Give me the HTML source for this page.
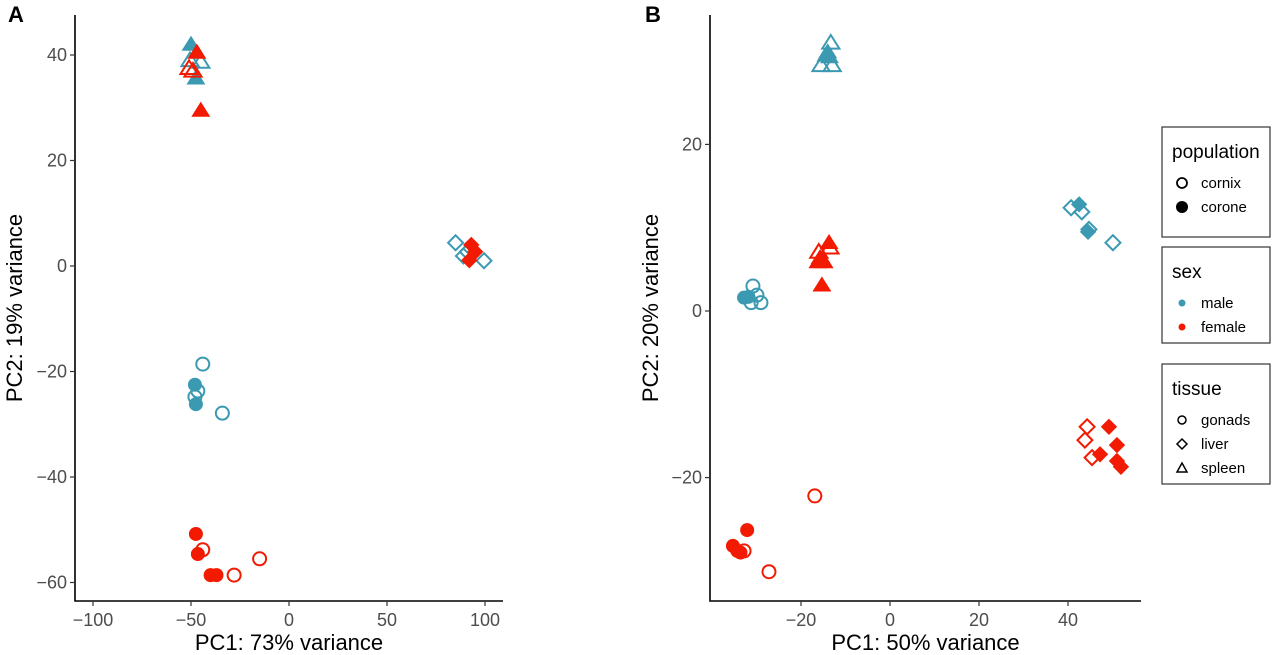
<!DOCTYPE html>
<html><head><meta charset="utf-8"><style>
body{margin:0;background:#fff;}
svg{display:block;font-family:"Liberation Sans",sans-serif;}
</style></head><body>
<svg id="fig" width="1280" height="655" viewBox="0 0 1280 655"></svg>
<script>
// Panel A data
const aX=[-50,-50.5,-45,-47.5,-47,-51,-49,-45, -44,-48,-46.5,-48,-47.5,-34, -47.5,-46.5,-44,-40,-37,-28,-15, 85,89,99.5,91,93,95,92];
const aY=[42,39,38.7,35.6,40.5,37.5,37,29.5, -18.6,-22.5,-23.7,-24.8,-26.2,-27.9, -50.8,-54.6,-53.8,-58.6,-58.6,-58.6,-55.5, 4.4,1.9,1,2.7,4,2.7,1.1];
const aSex=["m","m","m","m","f","f","f","f", "m","m","m","m","m","m", "f","f","f","f","f","f","f", "m","m","m","m","f","f","f"];
const aTis=["s","s","s","s","s","s","s","s", "g","g","g","g","g","g", "g","g","g","g","g","g","g", "l","l","l","l","l","l","l"];
const aFill=[1,0,0,1,1,0,0,1, 0,1,0,0,1,0, 1,1,0,1,1,0,0, 0,0,0,0,1,1,1];
// Panel B data
const bX=[-13.3,-14,-14.4,-15.5,-13,-13.6, -13.5,-13.7,-16,-15.7,-14.8,-16.2,-15.3, -30.8,-32.8,-31.8,-31.2,-29,-29.9, -16.9,-32.1,-35.3,-34.3,-33.6,-32.8,-27.2, 40.7,42.5,43.1,44.5,44.7,50.1, 44.3,43.8,45.4,49.2,47.2,51,51,51.9];
const bY=[32.2,31.1,30.7,29.5,29.5,30.5, 7.6,8.2,7.1,6.4,5.9,5.9,3.1, 3,1.6,1.7,1,1,1.9, -22.2,-26.3,-28.2,-28.8,-29,-28.8,-31.3, 12.4,12.8,11.9,9.5,9.8,8.2, -13.9,-15.5,-17.6,-13.9,-17.2,-16.1,-18,-18.7];
const bSex=["m","m","m","m","m","m", "f","f","f","f","f","f","f", "m","m","m","m","m","m", "f","f","f","f","f","f","f", "m","m","m","m","m","m", "f","f","f","f","f","f","f","f"];
const bTis=["s","s","s","s","s","s", "s","s","s","s","s","s","s", "g","g","g","g","g","g", "g","g","g","g","g","g","g", "l","l","l","l","l","l", "l","l","l","l","l","l","l","l"];
const bFill=[0,1,1,0,0,1, 0,1,0,1,1,1,1, 0,1,1,0,0,0, 0,1,1,1,1,0,0, 0,1,0,1,0,0, 0,0,0,1,1,1,1,1];
const aXTicks=[-100,-50,0,50,100], aYTicks=[-60,-40,-20,0,20,40];
const bXTicks=[-20,0,20,40], bYTicks=[-20,0,20];

const NS="http://www.w3.org/2000/svg";
const svg=document.getElementById('fig');
const COL={m:"#3B9AB2",f:"#F21A00"};
function mk(tag,attrs,parent){const e=document.createElementNS(NS,tag);for(const k in attrs)e.setAttribute(k,attrs[k]);(parent||svg).appendChild(e);return e;}
function txt(s,attrs,parent){const e=mk('text',attrs,parent);e.textContent=s;return e;}

function marker(g,tis,px,py,col,fill,r){
  let e;
  if(tis==="g"){e=mk('circle',{cx:px,cy:py,r:r},g);}
  else if(tis==="l"){const d=r*1.15;e=mk('polygon',{points:`${px},${py-d} ${px+d},${py} ${px},${py+d} ${px-d},${py}`},g);}
  else{const d=r*1.2;e=mk('polygon',{points:`${px},${py-d} ${px+d*1.1},${py+d*0.75} ${px-d*1.1},${py+d*0.75}`},g);}
  e.setAttribute('fill',fill?col:'none');
  e.setAttribute('stroke',col);
  e.setAttribute('stroke-width',fill?1:2);
  return e;
}

function panel(cfg){
  const g=mk('g',{});
  
  
  const sx=v=>cfg.x0px+(v-cfg.x0)*cfg.kx;
  const sy=v=>cfg.y0px-(v-cfg.y0)*cfg.ky;
  const ax=mk('path',{d:`M${cfg.left},${cfg.top} V${cfg.bottom} H${cfg.right}`,stroke:'#000','stroke-width':1.6,fill:'none'},g);
  
  cfg.xt.forEach(v=>{
    mk('line',{x1:sx(v),x2:sx(v),y1:cfg.bottom,y2:cfg.bottom+5,stroke:'#333','stroke-width':1.2},g);
    const t=txt(String(v).replace('-','\u2212'),{x:sx(v),y:cfg.bottom+25,'font-size':18,fill:'#4d4d4d','text-anchor':'middle'},g);
    
  });
  cfg.yt.forEach(v=>{
    mk('line',{x1:cfg.left-5,x2:cfg.left,y1:sy(v),y2:sy(v),stroke:'#333','stroke-width':1.2},g);
    const t=txt(String(v).replace('-','\u2212'),{x:cfg.left-8,y:sy(v)+6,'font-size':18,fill:'#4d4d4d','text-anchor':'end'},g);
    
  });
  const xt=txt(cfg.xlab,{x:(cfg.left+cfg.right)/2,y:cfg.bottom+49,'font-size':22,'text-anchor':'middle',fill:'#000'},g);
  
  const yc=(cfg.top+cfg.bottom)/2;
  const yt=txt(cfg.ylab,{x:cfg.ylx,y:yc,'font-size':22,'text-anchor':'middle',fill:'#000',transform:`rotate(-90 ${cfg.ylx} ${yc})`},g);
  
  const lt=txt(cfg.letter,{x:cfg.lx,y:22,'font-size':22,'font-weight':'bold',fill:'#000'},g);
  
  for(let i=0;i<cfg.X.length;i++){
    const m=marker(g,cfg.T[i],sx(cfg.X[i]),sy(cfg.Y[i]),COL[cfg.S[i]],cfg.F[i],6.5);
    
    
  }
}
panel({name:'panel-a',letter:'A',lx:8,X:aX,Y:aY,S:aSex,T:aTis,F:aFill,x0:0,x0px:289,kx:1.96,y0:0,y0px:266,ky:5.275,
  left:75,right:503,top:15,bottom:601,xt:aXTicks,yt:aYTicks,xlab:'PC1: 73% variance',ylab:'PC2: 19% variance',ylx:22});
panel({name:'panel-b',letter:'B',lx:645,X:bX,Y:bY,S:bSex,T:bTis,F:bFill,x0:0,x0px:890,kx:4.45,y0:0,y0px:311,ky:8.33,
  left:710,right:1141,top:15,bottom:601,xt:bXTicks,yt:bYTicks,xlab:'PC1: 50% variance',ylab:'PC2: 20% variance',ylx:658});

// Legends
function legendBox(name,y,h,title,items){
  const g=mk('g',{});
  
  
  mk('rect',{x:1162,y:y,width:108,height:h,fill:'#fff',stroke:'#333','stroke-width':1.2},g);
  txt(title,{x:1172,y:y+31,'font-size':19,fill:'#000'},g);
  items.forEach((it,i)=>{
    const cy=y+56+i*24;
    it.draw(g,1182,cy);
    const t=txt(it.label,{x:1201,y:cy+5,'font-size':15,fill:'#000'},g);
    
  });
}
legendBox('legend-population',127,110,'population',[
  {label:'cornix',draw:(g,x,y)=>mk('circle',{cx:x,cy:y,r:5,fill:'none',stroke:'#000','stroke-width':1.8},g)},
  {label:'corone',draw:(g,x,y)=>mk('circle',{cx:x,cy:y,r:6,fill:'#000'},g)}]);
legendBox('legend-sex',247,96,'sex',[
  {label:'male',draw:(g,x,y)=>mk('circle',{cx:x,cy:y,r:3.5,fill:COL.m},g)},
  {label:'female',draw:(g,x,y)=>mk('circle',{cx:x,cy:y,r:3.5,fill:COL.f},g)}]);
legendBox('legend-tissue',364,120,'tissue',[
  {label:'gonads',draw:(g,x,y)=>mk('circle',{cx:x,cy:y,r:4,fill:'none',stroke:'#000','stroke-width':1.5},g)},
  {label:'liver',draw:(g,x,y)=>mk('polygon',{points:`${x},${y-5} ${x+5},${y} ${x},${y+5} ${x-5},${y}`,fill:'none',stroke:'#000','stroke-width':1.5},g)},
  {label:'spleen',draw:(g,x,y)=>mk('polygon',{points:`${x},${y-5} ${x+5},${y+4} ${x-5},${y+4}`,fill:'none',stroke:'#000','stroke-width':1.5},g)}]);
</script>
</body></html>
